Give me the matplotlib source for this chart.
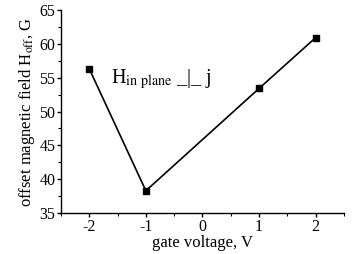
import matplotlib
matplotlib.use('Agg')
import matplotlib.pyplot as plt
from matplotlib.ticker import MultipleLocator

plt.rcParams['font.family'] = 'Liberation Serif'
plt.rcParams['mathtext.fontset'] = 'stix'
plt.rcParams['axes.unicode_minus'] = False

# gate voltage (V) vs offset field (G)
voltage = [-2, -1, 1, 2]
h_off = [56.3, 38.3, 53.4, 60.9]

fig = plt.figure(figsize=(3.62, 2.54), dpi=100)
ax = fig.add_axes([0.1685, 0.161, 0.7815, 0.8])

ax.plot(voltage, h_off, color='black', lw=1.2, marker='s', markersize=4)

ax.set_xlim(-2.5, 2.5)
ax.set_ylim(35, 65)
ax.xaxis.set_major_locator(MultipleLocator(1))
ax.xaxis.set_minor_locator(MultipleLocator(0.5))
ax.yaxis.set_major_locator(MultipleLocator(5))
ax.yaxis.set_minor_locator(MultipleLocator(2.5))

for s in ['top', 'right']:
    ax.spines[s].set_visible(False)
for s in ['left', 'bottom']:
    ax.spines[s].set_linewidth(1.0)

ax.tick_params(which='major', direction='out', length=3, width=1, labelsize=11.5, pad=1)
ax.tick_params(which='minor', direction='out', length=2, width=0.8)

ax.set_xlabel('gate voltage, V', fontsize=12, labelpad=0)
ax.set_ylabel(r'offset magnetic field H$_{\mathrm{off}}$, G', fontsize=12, labelpad=2)

ax.text(-1.62, 54.2, r'H$_{\mathrm{in\ plane}}$ _|_ j', fontsize=14.5)

fig.savefig('out.png', dpi=100)
